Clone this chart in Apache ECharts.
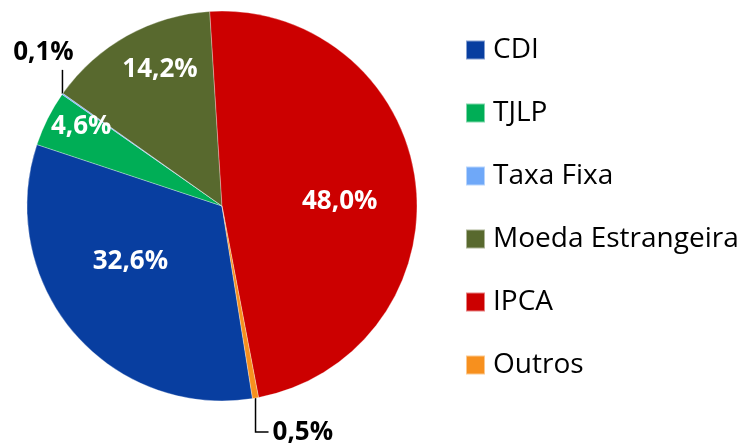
<!DOCTYPE html>
<html>
<head>
<meta charset="utf-8">
<script src="https://cdn.jsdelivr.net/npm/echarts@6/dist/echarts.min.js"></script>
<style>
  html, body { margin: 0; padding: 0; background: #fff; }
  #main { width: 742px; height: 444px; }
</style>
</head>
<body>
<div id="main"></div>
<script>
// categorias e valores (%)
const categories = ['CDI', 'TJLP', 'Taxa Fixa', 'Moeda Estrangeira', 'IPCA', 'Outros']
const values = [32.6, 4.6, 0.1, 14.2, 48.0, 0.5]
const colors = ['#083ea0', '#00ae56', '#6fa8f8', '#58692e', '#cc0000', '#f7901e']

// fatias pequenas com rotulo fora
const outsideIdx = [2, 5]
// ajuste fino dos rotulos internos
const insideShift = { 0: [-15, -9], 1: [-51, -34], 3: [-13, -49], 4: [18, 8] }

const FONT = 'Open Sans'

const chart = echarts.init(document.getElementById('main'))

const data = categories.map((name, i) => {
  const outside = outsideIdx.includes(i)
  return {
    name,
    value: values[i],
    itemStyle: { color: colors[i] },
    label: {
      position: outside ? 'outside' : 'inside',
      color: outside ? '#000' : '#fff'
    }
  }
})

const option = {
  animation: false,
  legend: {
    orient: 'vertical',
    left: 460,
    top: 31,
    icon: 'rect',
    itemWidth: 19,
    itemHeight: 19,
    itemGap: 35,
    data: categories,
    textStyle: {
      fontFamily: FONT,
      fontSize: 28,
      lineHeight: 28,
      color: '#000',
      padding: [0, 0, 0, 3]
    }
  },
  series: [
    {
      type: 'pie',
      center: [222, 206],
      radius: 195,
      startAngle: -81,
      clockwise: true,
      avoidLabelOverlap: false,
      itemStyle: { borderColor: 'rgba(255,255,255,0.5)', borderWidth: 0.6 },
      label: {
        show: true,
        fontFamily: FONT,
        fontSize: 26,
        fontWeight: 'bold',
        formatter: (p) => p.value.toFixed(1).replace('.', ',') + '%'
      },
      labelLine: {
        show: true,
        length: 20,
        length2: 10,
        lineStyle: { color: '#000', width: 1.5 }
      },
      labelLayout: (p) => {
        const i = p.dataIndex
        if (insideShift[i]) {
          return { dx: insideShift[i][0], dy: insideShift[i][1] }
        }
        const e = p.labelLinePoints && p.labelLinePoints[0]
        if (!e) return {}
        if (i === 2) {
          // Taxa Fixa: linha vertical para cima
          const top = e[1] - 24
          return {
            x: e[0] - 19,
            y: e[1] - 41,
            align: 'center',
            verticalAlign: 'middle',
            labelLinePoints: [e, [e[0], top], [e[0], top]]
          }
        }
        // Outros: desce e vira para a direita
        const y = e[1] + 34
        return {
          x: e[0] + 17,
          y: y,
          align: 'left',
          verticalAlign: 'middle',
          labelLinePoints: [e, [e[0], y], [e[0] + 13, y]]
        }
      },
      data: data
    }
  ]
}

option && chart.setOption(option)
window.addEventListener('resize', () => {
  chart.resize()
})
</script>
</body>
</html>
